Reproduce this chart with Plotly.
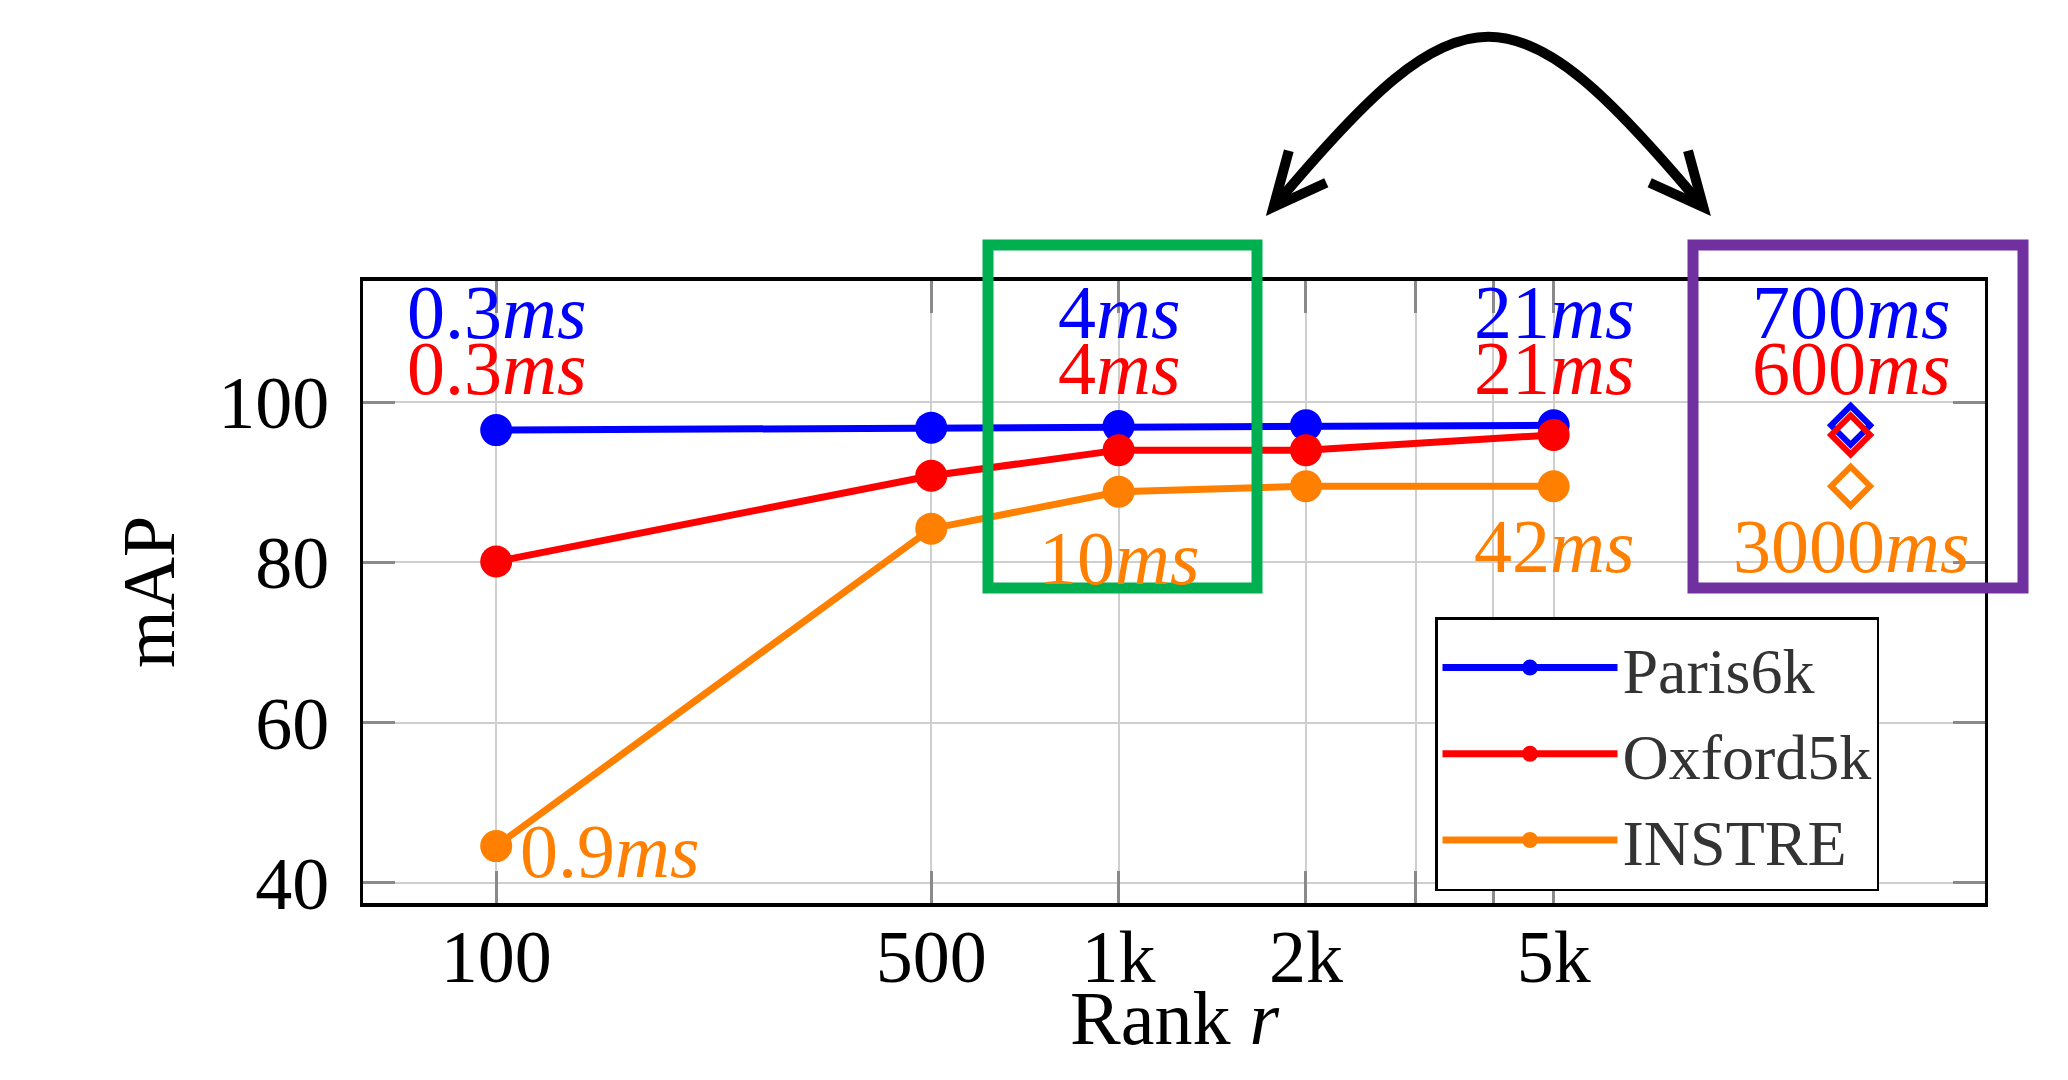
import numpy as np
import plotly.graph_objects as go

# ---------------- data ----------------
ranks = [100, 500, 1000, 2000, 5000]
rank_ticktext = ["100", "500", "1k", "2k", "5k"]
minor_ranks = [3000, 4000]
y_ticks = [40, 60, 80, 100]

datasets = ["Paris6k", "Oxford5k", "INSTRE"]
colors = ["#0000FF", "#FF0000", "#FF8000"]
paris_map = [96.5, 96.8, 97.0, 97.1, 97.1]
oxford_map = [80.1, 90.8, 94.0, 94.0, 95.9]
instre_map = [44.6, 84.2, 88.8, 89.5, 89.5]

full_rank = 15000          # x position of the full-ranking result (diamonds)
full_map = [97.1, 95.9, 89.5]

time_ranks = [100, 1000, 5000]
paris_ms = ["0.3", "4", "21"]
oxford_ms = ["0.3", "4", "21"]
instre_ms = ["0.9", "10", "42"]
full_ms = ["700", "600", "3000"]

series = [paris_map, oxford_map, instre_map]
times = [paris_ms, oxford_ms, instre_ms]

# ---------------- geometry helpers ----------------
W, H = 2068, 1080
L, R, T, B = 363, 1985, 281, 903


def px(xp):
    return (xp - L) / (R - L)


def py(yp):
    return (B - yp) / (B - T)


SERIF = "Liberation Serif"
AFONT = 76

fig = go.Figure()

for name, col, vals in zip(datasets, colors, series):
    fig.add_trace(go.Scatter(
        x=ranks, y=vals, name=name, mode="lines+markers",
        line=dict(color=col, width=7),
        marker=dict(color=col, size=32),
    ))

for name, col, v in zip(datasets, colors, full_map):
    fig.add_trace(go.Scatter(
        x=[full_rank], y=[v], mode="markers", showlegend=False, name=name,
        marker=dict(symbol="diamond-open", size=30, color=col,
                    line=dict(color=col, width=6)),
    ))

# ---------------- timing annotations ----------------
ann = []
row_y = [111.2, 104.2]
for i in range(2):
    for r, t in zip(time_ranks, times[i]):
        ann.append(dict(x=np.log10(r), y=row_y[i], xref="x", yref="y",
                        text=f"{t}<i>ms</i>", showarrow=False,
                        xanchor="center", yanchor="middle",
                        font=dict(family=SERIF, size=AFONT, color=colors[i])))
    ann.append(dict(x=np.log10(full_rank), y=row_y[i], xref="x", yref="y",
                    text=f"{full_ms[i]}<i>ms</i>", showarrow=False,
                    xanchor="center", yanchor="middle",
                    font=dict(family=SERIF, size=AFONT, color=colors[i])))

# INSTRE labels
ann.append(dict(x=np.log10(time_ranks[0]), y=instre_map[0] - 0.6, xref="x", yref="y",
                text=f"{instre_ms[0]}<i>ms</i>", showarrow=False,
                xanchor="left", yanchor="middle", xshift=22,
                font=dict(family=SERIF, size=AFONT, color=colors[2])))
for r, t, yy in zip(time_ranks[1:], instre_ms[1:], [80.6, 82.0]):
    ann.append(dict(x=np.log10(r), y=yy, xref="x", yref="y",
                    text=f"{t}<i>ms</i>", showarrow=False,
                    xanchor="center", yanchor="middle",
                    font=dict(family=SERIF, size=AFONT, color=colors[2])))
ann.append(dict(x=np.log10(full_rank), y=82.0, xref="x", yref="y",
                text=f"{full_ms[2]}<i>ms</i>", showarrow=False,
                xanchor="center", yanchor="middle",
                font=dict(family=SERIF, size=AFONT, color=colors[2])))

# x-axis title (placed as an annotation to sit close under the tick labels)
ann.append(dict(x=0.5, y=py(1018), xref="paper", yref="paper",
                text="Rank <i>r</i>", showarrow=False,
                xanchor="center", yanchor="middle",
                font=dict(family=SERIF, size=76, color="black")))

# ---------------- decorations: boxes and arrow ----------------
shapes = []
shapes.append(dict(type="rect", xref="paper", yref="paper",
                   x0=px(988), x1=px(1257), y0=py(588), y1=py(245),
                   line=dict(color="#00B050", width=11), layer="above"))
shapes.append(dict(type="rect", xref="paper", yref="paper",
                   x0=px(1693), x1=px(2023), y0=py(588), y1=py(245),
                   line=dict(color="#7030A0", width=11), layer="above"))

p0 = (1273.5, 207)
p3 = (1703, 207)
c1 = (1463.5, -20)
c2 = (1513, -20)
path = (f"M {px(p0[0])},{py(p0[1])} C {px(c1[0])},{py(c1[1])} "
        f"{px(c2[0])},{py(c2[1])} {px(p3[0])},{py(p3[1])}")
shapes.append(dict(type="path", xref="paper", yref="paper", path=path,
                   line=dict(color="black", width=10), fillcolor="rgba(0,0,0,0)",
                   layer="above"))
for tip, a1, a2 in [((1273.5, 207), (1288.8, 150.7), (1326.3, 182.7)),
                    ((1703.3, 207), (1688, 150.7), (1649.7, 182.7))]:
    pth = (f"M {px(a1[0])},{py(a1[1])} L {px(tip[0])},{py(tip[1])} "
           f"L {px(a2[0])},{py(a2[1])}")
    shapes.append(dict(type="path", xref="paper", yref="paper", path=pth,
                       line=dict(color="black", width=10),
                       fillcolor="rgba(0,0,0,0)", layer="above"))

GRID = "#cfcfcf"
TICKC = "#8a8a8a"

fig.update_layout(
    width=W, height=H,
    margin=dict(l=L, r=W - R, t=T, b=H - B, pad=0, autoexpand=False),
    plot_bgcolor="white", paper_bgcolor="white",
    annotations=ann, shapes=shapes,
    legend=dict(x=px(1435), y=py(617), xanchor="left", yanchor="top",
                bgcolor="white", bordercolor="black", borderwidth=2.5,
                font=dict(family=SERIF, size=64, color="#333333"),
                itemwidth=175, tracegroupgap=0, itemsizing="trace"),
    xaxis=dict(
        type="log", range=[1.786, 4.392], automargin=False,
        tickmode="array", tickvals=ranks, ticktext=rank_ticktext,
        showgrid=True, gridcolor=GRID, gridwidth=2,
        ticks="inside", ticklen=32, tickwidth=3, tickcolor=TICKC,
        showline=True, linecolor="black", linewidth=3.5, mirror="ticks",
        zeroline=False, ticklabelstandoff=-14,
        tickfont=dict(family=SERIF, size=74, color="black"),
        minor=dict(tickmode="array", tickvals=minor_ranks, showgrid=True,
                   gridcolor=GRID, gridwidth=2, ticks="inside", ticklen=32,
                   tickwidth=3, tickcolor=TICKC),
    ),
    yaxis=dict(
        range=[37.5, 115.1], tickmode="array", tickvals=y_ticks, automargin=False,
        showgrid=True, gridcolor=GRID, gridwidth=2,
        ticks="inside", ticklen=32, tickwidth=3, tickcolor=TICKC,
        showline=True, linecolor="black", linewidth=3, mirror="ticks",
        zeroline=False, ticklabelstandoff=16,
        tickfont=dict(family=SERIF, size=74, color="black"),
        title=dict(text="mAP", standoff=20,
                   font=dict(family=SERIF, size=74, color="black")),
    ),
)

fig.write_html("out.html", config={"displayModeBar": False},
               post_script="document.body.style.margin='0';document.body.style.overflow='hidden';")
